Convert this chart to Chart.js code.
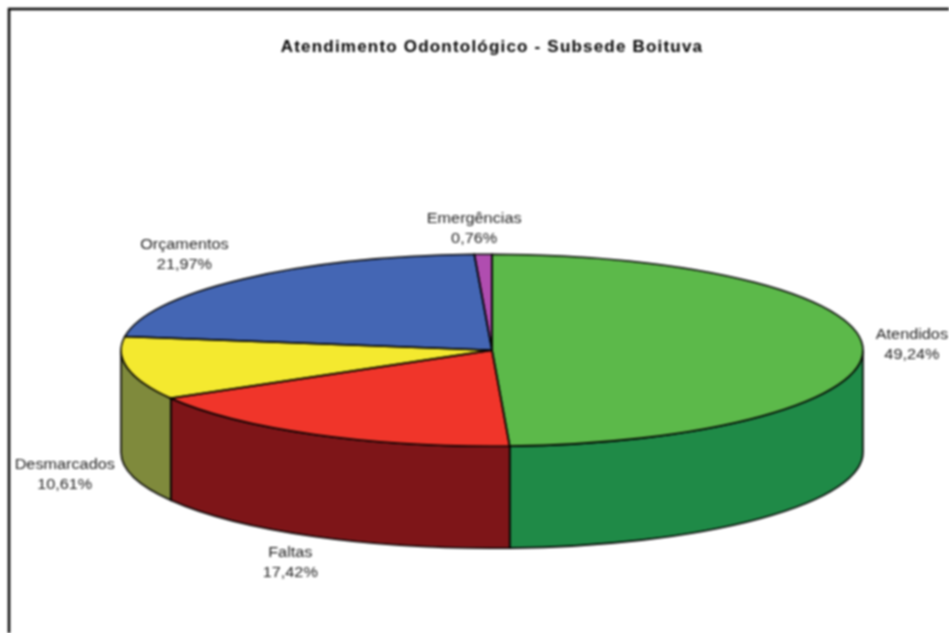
<!DOCTYPE html>
<html>
<head>
<meta charset="utf-8">
<title>Atendimento Odontológico - Subsede Boituva</title>
<script src="https://cdn.jsdelivr.net/npm/chart.js@4"></script>
<style>
  html, body { margin: 0; padding: 0; background: #ffffff; }
  #wrap { width: 949px; height: 633px; overflow: hidden; }
  /* a referencia e um jpeg meio borrado */
  #grafico { display: block; filter: blur(0.8px); }
</style>
</head>
<body>
<div id="wrap"><canvas id="grafico" width="949" height="633"></canvas></div>
<script>
const categorias = ["Atendidos", "Faltas", "Desmarcados", "Orçamentos", "Emergências"];
const valores = [49.24, 17.42, 10.61, 21.97, 0.76];
const rotulos = ["49,24%", "17,42%", "10,61%", "21,97%", "0,76%"];
const coresTopo = ["#5cb94a", "#f0352a", "#f4e92f", "#4466b4", "#b04db0"];
const coresLado = ["#1f8a47", "#7e1518", "#7f8a3c", "#2a3f70", "#6e2d6e"];

// deslocamento de cada rotulo a partir da borda da fatia
const deslocRotulos = [[49, -3], [-24, 27], [-63, 5], [-58, -24], [-9, -25]];

const raioX = 371;
const raioY = 96;
const altura = 102;

const fatorY = raioY / raioX;
const esticaTexto = 1.16;

function achatar(ctx, x, y) {
  ctx.translate(x, y);
  ctx.scale(1, fatorY);
  ctx.translate(-x, -y);
}

const pizza3d = {
  id: "pizza3d",
  beforeDraw(chart) {
    const ctx = chart.ctx;
    ctx.save();
    ctx.strokeStyle = "#000000";
    ctx.lineWidth = 2.5;
    ctx.beginPath();
    ctx.moveTo(9, 640);
    ctx.lineTo(9, 9);
    ctx.lineTo(955, 9);
    ctx.stroke();
    ctx.restore();
    // o titulo do original e mais espacado
    ctx.letterSpacing = "1.2px";
  },
  beforeDatasetsDraw(chart) {
    const ctx = chart.ctx;
    ctx.letterSpacing = "0px";
    const arcos = chart.getDatasetMeta(0).data;
    const { x, y } = arcos[0];

    // lateral: so a parte da frente (0 a PI)
    arcos.forEach((arco, i) => {
      const ini = Math.max(arco.startAngle, 0);
      const fim = Math.min(arco.endAngle, Math.PI);
      if (fim <= ini) return;
      ctx.save();
      ctx.beginPath();
      ctx.ellipse(x, y, raioX, raioY, 0, ini, fim);
      ctx.ellipse(x, y + altura, raioX, raioY, 0, fim, ini, true);
      ctx.closePath();
      ctx.fillStyle = coresLado[i];
      ctx.fill();
      ctx.strokeStyle = "#000000";
      ctx.lineWidth = 1.6;
      ctx.stroke();
      ctx.restore();
    });

    ctx.save();
    achatar(ctx, x, y);
  },
  afterDatasetsDraw(chart) {
    const ctx = chart.ctx;
    ctx.restore();

    const arcos = chart.getDatasetMeta(0).data;
    const { x, y } = arcos[0];

    // contorno do topo, fora da escala para a linha ficar uniforme
    ctx.save();
    ctx.strokeStyle = "#000000";
    ctx.lineWidth = 1.6;
    arcos.forEach((arco) => {
      ctx.beginPath();
      ctx.moveTo(x, y);
      ctx.ellipse(x, y, raioX, raioY, 0, arco.startAngle, arco.endAngle);
      ctx.closePath();
      ctx.stroke();
    });
    ctx.restore();

    // rotulos
    ctx.save();
    ctx.font = "14px 'Liberation Sans', Arial, sans-serif";
    ctx.fillStyle = "#1c1c1c";
    ctx.textAlign = "center";
    ctx.textBaseline = "middle";
    arcos.forEach((arco, i) => {
      const meio = (arco.startAngle + arco.endAngle) / 2;
      const px = x + raioX * Math.cos(meio);
      let py = y + raioY * Math.sin(meio);
      if (Math.sin(meio) > 0) py += altura;
      ctx.save();
      ctx.translate(px + deslocRotulos[i][0], py + deslocRotulos[i][1]);
      ctx.scale(esticaTexto, 1);
      ctx.fillText(categorias[i], 0, -10);
      ctx.fillText(rotulos[i], 0, 10);
      ctx.restore();
    });
    ctx.restore();
  }
};

new Chart(document.getElementById("grafico"), {
  type: "pie",
  data: {
    labels: categorias,
    datasets: [{
      data: valores,
      backgroundColor: coresTopo,
      borderWidth: 0,
      radius: raioX,
      clip: false
    }]
  },
  options: {
    responsive: false,
    animation: false,
    layout: { padding: { left: 35, top: 0 } },
    plugins: {
      legend: { display: false },
      tooltip: { enabled: false },
      title: {
        display: true,
        text: "Atendimento Odontológico - Subsede Boituva",
        color: "#000000",
        font: { family: "'Liberation Sans', Arial, sans-serif", size: 17, weight: "bold" },
        padding: { top: 37, bottom: 10 }
      }
    }
  },
  plugins: [pizza3d]
});
</script>
</body>
</html>
